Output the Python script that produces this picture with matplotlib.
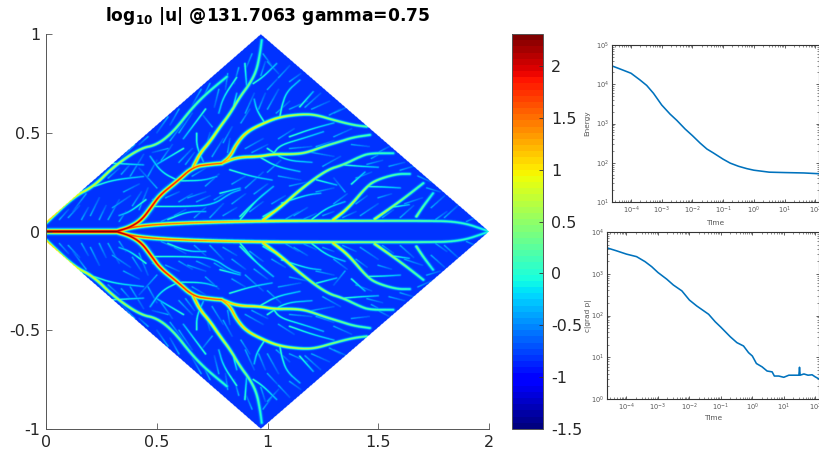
import numpy as np
import matplotlib
matplotlib.use('Agg')
import matplotlib.pyplot as plt
from matplotlib.ticker import LogLocator, NullFormatter

W, H = 820, 454
BASE = -0.8
CLIM = (-1.5, 2.31)

# Channels: (points, peak at start, peak at end)
TRUNK = ([(0, 0), (.319, 0)], 2.3, 2.3)
ARM_A = ([(.319, 0), (.379, .02), (.432, .058), (.477, .126), (.515, .185), (.59, .252), (.665, .328),
          (.74, .34), (.793, .345)], 2.2, 1.6)
ARM_B = ([(.793, .345), (.831, .379), (.861, .446), (.906, .505), (.981, .548), (1.056, .581), (1.162, .595),
          (1.222, .59), (1.297, .565), (1.388, .539), (1.448, .531)], 1.4, 0.3)
ARM_C = ([(.793, .345), (.864, .376), (.966, .379), (1.026, .392), (1.117, .391), (1.177, .399), (1.252, .43),
          (1.327, .455), (1.388, .477), (1.463, .489)], 1.3, 0.2)
ARM_D = ([(.665, .328), (.695, .396), (.74, .455), (.786, .531), (.831, .598), (.876, .683), (.921, .75),
          (.951, .818), (.966, .902), (.974, .97)], 1.3, 0.0)
ARM_E = ([(0, .045), (.123, .176), (.214, .227), (.304, .328), (.424, .421), (.5, .438), (.575, .505),
          (.658, .624), (.725, .7), (.816, .784)], 1.15, 0.1)
ARM_F = ([(.319, 0), (.424, .03), (.695, .046), (1.056, .053), (1.297, .053), (1.478, .053), (1.688, .053),
          (1.869, .05), (2.0, 0)], 1.8, 0.0)
ARM_G = ([(.981, .058), (1.071, .134), (1.146, .21), (1.266, .311), (1.342, .337), (1.418, .379), (1.463, .396),
          (1.568, .396)], 1.15, 0.1)
ARM_H = ([(1.297, .058), (1.365, .117), (1.448, .227), (1.493, .261), (1.583, .291), (1.643, .291)], 1.05, 0.1)
ARM_I = ([(1.485, .062), (1.561, .122), (1.628, .177), (1.704, .244)], 0.85, 0.2)
ARM_J = ([(1.673, .075), (1.703, .126), (1.748, .193)], 0.5, 0.0)
MAJOR = [TRUNK, ARM_F, ARM_A, ARM_B, ARM_C, ARM_D, ARM_E, ARM_G, ARM_H, ARM_I, ARM_J]

# Side twigs, cyan level
TWIGS = [
    [(.966, .376), (1.041, .328), (1.146, .303)], [(.83, .312), (.93, .278), (1.02, .26)],
    [(1.064, .143), (1.179, .185), (1.24, .193)], [(.876, .075), (.936, .143), (1.026, .227)],
    [(.786, .193), (.876, .219)], [(1.222, .261), (1.312, .235)],
    [(1.026, .392), (1.056, .437), (1.162, .472), (1.252, .505)],
    [(1.056, .581), (1.064, .632), (1.086, .708), (1.146, .767)],
    [(.936, .75), (.981, .784), (1.041, .851)], [(1.146, .632), (1.206, .708)],
    [(.989, .548), (.951, .615), (.94, .67)], [(.898, .851), (.906, .733)],
    [(.612, .256), (.71, .258), (.77, .278)],
    [(.485, .126), (.635, .126), (.755, .134), (.831, .193), (.876, .21)],
    [(.68, .497), (.68, .43), (.71, .354)], [(.214, .227), (.304, .261), (.439, .278)],
    [(.304, .345), (.439, .337)], [(.846, .632), (.861, .7)], [(.981, .075), (1.056, .126)],
    [(.876, .058), (.951, .16), (1.026, .227)], [(1.342, .337), (1.42, .33), (1.5, .325)],
    [(1.448, .227), (1.53, .225), (1.6, .22)], [(1.561, .122), (1.64, .135)], [(1.2, .06), (1.27, .12), (1.35, .15)],
    [(1.1, .48), (1.2, .52), (1.3, .55)], [(.55, .06), (.64, .1), (.72, .1)], [(.45, .16), (.38, .1), (.33, .08)],
    [(.6, .255), (.52, .3), (.47, .38)], [(.62, .42), (.56, .38), (.5, .34)], [(.72, .62), (.66, .53), (.62, .47)],
    [(.86, .78), (.8, .68), (.78, .6)], [(1.0, .42), (1.08, .36), (1.2, .35)], [(1.38, .24), (1.44, .3)],
]
# Fine feathers, faint: x0, y0, x1, y1
FEATHERS = [
    (.06, .06, .1, .11), (.1, .07, .15, .13), (.16, .06, .19, .12), (.2, .08, .24, .17), (.24, .06, .27, .13),
    (.28, .06, .33, .16), (.33, .05, .36, .1), (.18, .19, .12, .1), (.3, .12, .38, .18), (.35, .2, .42, .24),
    (.42, .11, .46, .22), (.39, .13, .43, .2), (.52, .05, .6, .09), (.58, .08, .63, .11), (.64, .17, .72, .2),
    (.6, .15, .66, .19), (.68, .15, .74, .18), (.76, .16, .82, .2), (.8, .08, .86, .12), (.74, .07, .8, .14),
    (.67, .07, .72, .12), (.9, .22, .98, .3), (.94, .19, 1.0, .24), (.84, .24, .9, .28), (.72, .23, .78, .29),
    (.66, .28, .72, .32), (.5, .22, .42, .32), (.38, .28, .44, .39), (.34, .29, .38, .34), (.28, .27, .33, .32),
    (.46, .28, .5, .36), (.52, .36, .57, .44), (.55, .42, .48, .4), (.6, .35, .66, .42), (.63, .34, .67, .4),
    (.56, .46, .62, .55), (.6, .5, .66, .6), (.75, .53, .7, .6), (.72, .42, .74, .5), (.8, .45, .84, .53),
    (.75, .38, .8, .47), (.82, .4, .83, .47), (.9, .42, .98, .47), (.93, .4, 1.0, .44), (.88, .55, .92, .62),
    (.9, .6, .94, .7), (.96, .62, .99, .7), (1.0, .62, 1.05, .72), (1.04, .6, 1.1, .66), (1.1, .62, 1.18, .66),
    (1.2, .62, 1.28, .66), (1.17, .63, 1.24, .7), (1.3, .6, 1.36, .63), (1.28, .59, 1.33, .62), (1.38, .44, 1.46, .43),
    (1.3, .48, 1.38, .52), (1.22, .43, 1.3, .46), (1.1, .42, 1.2, .43), (1.05, .47, 1.12, .52), (1.5, .4, 1.55, .43),
    (1.47, .37, 1.52, .4), (1.55, .33, 1.62, .35), (1.6, .31, 1.66, .33), (1.68, .28, 1.74, .25), (1.72, .22, 1.78, .2),
    (1.74, .12, 1.8, .18), (1.8, .07, 1.86, .13), (1.76, .06, 1.81, .1), (1.6, .07, 1.66, .13), (1.62, .14, 1.7, .17),
    (1.52, .07, 1.57, .11), (1.42, .08, 1.5, .14), (1.5, .17, 1.56, .19), (1.4, .14, 1.45, .18), (1.35, .2, 1.3, .27),
    (1.3, .14, 1.36, .19), (1.22, .2, 1.3, .22), (1.12, .08, 1.18, .12), (1.08, .06, 1.14, .1), (1.16, .06, 1.22, .09),
    (1.05, .28, 1.15, .26), (1.1, .23, 1.18, .25), (1.0, .3, 1.06, .36), (1.2, .4, 1.3, .38), (1.25, .33, 1.33, .38),
    (1.4, .27, 1.47, .3), (.98, .9, 1.02, .84), (1.0, .86, 1.05, .8), (.93, .9, .9, .82), (1.05, .78, 1.1, .84),
    (1.1, .76, 1.15, .8), (1.0, .72, 1.05, .78), (.97, .79, .99, .86), (.7, .72, .66, .64), (.74, .75, .7, .66),
    (.78, .72, .76, .63), (.82, .8, .81, .72), (.87, .83, .85, .75), (.55, .58, .5, .5), (.6, .62, .56, .54),
    (.4, .44, .34, .37), (.46, .48, .42, .44), (.25, .3, .2, .25), (.2, .22, .16, .19), (1.45, .34, 1.52, .36),
    (1.25, .08, 1.3, .1), (1.34, .07, 1.4, .1), (1.9, .05, 1.94, .07), (.92, .1, .98, .15), (1.02, .14, 1.08, .18),
    (1.0, .07, 1.04, .11), (.84, .14, .9, .19), (.54, .17, .6, .2), (.48, .16, .53, .2),
]
FIELD_NX, FIELD_NY = 1000, 890

Y_TICKS = [-1, -.5, 0, .5, 1]
X_TICKS = [0, .5, 1, 1.5, 2]
CBAR_TICKS = [-1.5, -1, -.5, 0, .5, 1, 1.5, 2]

LOG_TIME_E = [-4.63, -4.36, -4, -3.71, -3.49, -3.27, -3, -2.73, -2.51, -2.24, -2, -1.75, -1.53, -1.32, -1, -.77, -.5,
              -.23, 0, .5, 1, 1.62, 2.13]
LOG_ENERGY = [4.47, 4.39, 4.28, 4.11, 3.97, 3.77, 3.47, 3.24, 3.08, 2.86, 2.69, 2.5, 2.35, 2.25, 2.09, 1.99, 1.91,
              1.85, 1.81, 1.76, 1.75, 1.74, 1.72]
LOG_TIME_G = [-4.62, -4.32, -4, -3.68, -3.41, -3.2, -3, -2.72, -2.51, -2.24, -2, -1.77, -1.39, -1.18, -1, -.7, -.49,
              -.28, -.12, 0, .13, .31, .47, .63, .7, .84, 1, 1.16, 1.32, 1.48, 1.5, 1.52, 1.64, 1.77, 1.9, 2.0, 2.12]
LOG_GRAD = [3.62, 3.55, 3.47, 3.41, 3.29, 3.17, 3.03, 2.87, 2.73, 2.59, 2.37, 2.23, 2.03, 1.85, 1.72, 1.49, 1.35,
            1.27, 1.11, 1.03, .85, .77, .67, .65, .55, .55, .52, .57, .57, .57, .76, .57, .6, .57, .58, .53, .48]


def px_axes(fig, l, r, t, b):
    return fig.add_axes([l / W, 1 - b / H, (r - l) / W, (b - t) / H])


def rounded(pts, n=3):
    pts = np.asarray(pts, float)
    for _ in range(n):
        if len(pts) < 3:
            break
        q = .75 * pts[:-1] + .25 * pts[1:]
        r = .25 * pts[:-1] + .75 * pts[1:]
        mid = np.empty((2 * len(q), 2))
        mid[0::2], mid[1::2] = q, r
        pts = np.vstack([pts[0], mid, pts[-1]])
    return pts


def stamp(field, xs, ys, pts, p0, p1, w0, gain=.0025):
    pts = rounded(pts)
    seg = np.hypot(*np.diff(pts, axis=0).T)
    cum = np.r_[0, np.cumsum(seg)] / seg.sum()
    pad = (w0 + gain * max(p0 - .6, 0)) * 3
    for i in range(len(pts) - 1):
        a, b = pts[i], pts[i + 1]
        ix = np.where((xs >= min(a[0], b[0]) - pad) & (xs <= max(a[0], b[0]) + pad))[0]
        iy = np.where((ys >= min(a[1], b[1]) - pad) & (ys <= max(a[1], b[1]) + pad))[0]
        if len(ix) == 0 or len(iy) == 0:
            continue
        X, Y = np.meshgrid(xs[ix], ys[iy])
        d = b - a
        u = np.clip(((X - a[0]) * d[0] + (Y - a[1]) * d[1]) / (d @ d), 0, 1)
        dist = np.hypot(X - a[0] - u * d[0], Y - a[1] - u * d[1])
        frac = cum[i] + u * (cum[i + 1] - cum[i])
        peak = p0 + (p1 - p0) * frac
        width = w0 + gain * np.maximum(peak - .6, 0)
        val = BASE + (peak - BASE) * np.exp(-(dist / width) ** 2)
        sub = field[np.ix_(iy, ix)]
        field[np.ix_(iy, ix)] = np.maximum(sub, val)


xs = np.linspace(0, 2, FIELD_NX)
ys = np.linspace(0, 1, FIELD_NY // 2)
upper = np.full((len(ys), len(xs)), BASE)
for x0, y0, x1, y1 in FEATHERS:
    stamp(upper, xs, ys, [(x0, y0), (x1, y1)], -0.3, -0.65, .0035, 0)
for t in TWIGS:
    stamp(upper, xs, ys, t, 0.2, -0.3, .004, 0)
for pts, p0, p1 in MAJOR:
    stamp(upper, xs, ys, pts, p0, p1, .0062)
field = np.vstack([upper[::-1], upper])
yy = np.r_[-ys[::-1], ys]
X, Y = np.meshgrid(xs, yy)
left = np.where(X < .97, .05 + X * (.95 / .97), (2 - X) / 1.03)
field[np.abs(Y) > left] = np.nan

cmap = plt.get_cmap('jet', 64).copy()
cmap.set_bad('white')
GRAY = '#262626'
plt.rcParams['font.family'] = 'DejaVu Sans'

fig = plt.figure(figsize=(W / 100, H / 100), dpi=100)
ax = px_axes(fig, 46, 489, 34, 429)
im = ax.imshow(field, origin='lower', extent=[0, 2, -1, 1], aspect='auto', cmap=cmap,
               vmin=CLIM[0], vmax=CLIM[1], interpolation='antialiased')
ax.set_xlim(0, 2)
ax.set_ylim(-1, 1)
ax.set_xticks(X_TICKS, ['0', '0.5', '1', '1.5', '2'])
ax.set_yticks(Y_TICKS, ['-1', '-0.5', '0', '0.5', '1'])
ax.tick_params(direction='in', length=4, width=.6, labelsize=11.5, colors=GRAY, color='#555555', pad=4)
for s in ('top', 'right'):
    ax.spines[s].set_visible(False)
for s in ('left', 'bottom'):
    ax.spines[s].set_color('#555555')
    ax.spines[s].set_linewidth(.7)
fig.text(268 / W, 1 - 16 / H, r'$\mathbf{log_{10}}$ |u| @131.7063 gamma=0.75', ha='center', va='center',
         fontsize=12.3, fontweight='bold', color='#000000')

cax = px_axes(fig, 512, 543, 34, 429)
cb = fig.colorbar(im, cax=cax)
cb.set_ticks(CBAR_TICKS, labels=['-1.5', '-1', '-0.5', '0', '0.5', '1', '1.5', '2'])
cax.tick_params(direction='in', length=3, width=.6, labelsize=11.5, colors=GRAY, color='#333333', pad=6)
cb.outline.set_edgecolor('#555555')
cb.outline.set_linewidth(.7)


def log_panel(ax, log_t, log_v, ylim, yl, xlim, ylp, xlp):
    ax.loglog(10.0 ** np.array(log_t), 10.0 ** np.array(log_v), color='#0072BD', lw=1.15)
    ax.set_xlim(*xlim)
    ax.set_ylim(*ylim)
    ax.set_xticks([10.0 ** k for k in range(-4, 3)])
    ax.xaxis.set_minor_locator(LogLocator(base=10, subs=np.arange(2, 10), numticks=20))
    ax.yaxis.set_minor_locator(LogLocator(base=10, subs=np.arange(2, 10), numticks=20))
    ax.xaxis.set_minor_formatter(NullFormatter())
    ax.yaxis.set_minor_formatter(NullFormatter())
    ax.tick_params(which='major', direction='in', length=2.5, width=.5, top=True, right=True,
                   labelsize=4.8, colors='#555555', color='#222222', pad=2)
    ax.tick_params(which='minor', direction='in', length=1.3, width=.4, top=True, right=True, color='#333333')
    for s in ax.spines.values():
        s.set_color('#333333')
        s.set_linewidth(.8)
    ax.set_xlabel('Time', fontsize=5.3, color='#555555', labelpad=xlp)
    ax.set_ylabel(yl, fontsize=5.3, color='#555555', labelpad=ylp)


a1 = px_axes(fig, 612, 819, 45, 202)
log_panel(a1, LOG_TIME_E, LOG_ENERGY, (10, 1e5), 'Energy', (2.4e-5, 131.7), 4.5, 3)
a2 = px_axes(fig, 607, 819, 232, 399)
log_panel(a2, LOG_TIME_G, LOG_GRAD, (1, 1e4), 'c|grad p|', (2.4e-5, 131.7), -1, 1.5)

fig.savefig('out.png', dpi=100)
